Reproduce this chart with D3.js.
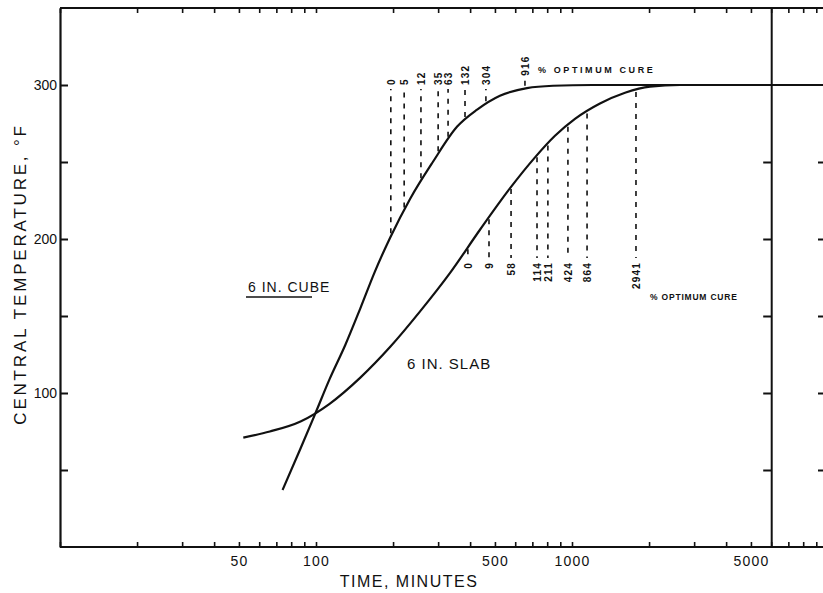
<!DOCTYPE html>
<html>
<head>
<meta charset="utf-8">
<script src="https://cdn.jsdelivr.net/npm/d3@7"></script>
<style>
  body { margin: 0; background: #fff; }
  text { font-family: "Liberation Sans", Arial, sans-serif; fill: #111; }
</style>
</head>
<body>
<svg id="chart" width="823" height="593"></svg>
<script>
// time in minutes, central temperature in deg F
var cubeTime = [74, 87, 99, 113, 130, 149, 170, 195, 233, 286, 356, 426, 523, 667, 843, 1200, 10000];
var cubeTemp = [37, 64, 86, 109, 131, 155, 179, 201, 226, 250, 273, 284, 293, 298, 299.5, 300, 300];

var slabTime = [52, 66, 87, 113, 149, 195, 255, 334, 437, 573, 717, 858, 1027, 1286, 1611, 2017, 2642, 10000];
var slabTemp = [71, 75, 81.5, 93, 110, 130, 153, 178, 206, 233, 253, 267, 278, 288, 295, 299, 300, 300];

// % optimum cure markers
var cubeCureTime = [196, 221, 257, 300, 328, 382, 461, 655];
var cubeCureLabel = ['0', '5', '12', '35', '63', '132', '304', '916'];
var slabCureTime = [392, 474, 578, 730, 805, 964, 1145, 1778];
var slabCureLabel = ['0', '9', '58', '114', '211', '424', '864', '2941'];

var tempTicks = [50, 100, 150, 200, 250, 300];
var tempLabels = [100, 200, 300];
var timeLabels = [50, 100, 500, 1000, 5000];
var innerTicks = [50, 100, 150, 200, 250];

var svg = d3.select('#chart');

var x = d3.scaleLog().domain([10, 10000]).range([60, 828]);
var y = d3.scaleLinear().domain([0, 350]).range([547, 8]);

// temperature on a curve at time t (for dashed marker ends)
function tempAt(times, temps, t) {
	var i = d3.bisectRight(times, t);
	if (i <= 0) return temps[0];
	if (i >= times.length) return temps[temps.length - 1];
	var f = (Math.log(t) - Math.log(times[i - 1])) / (Math.log(times[i]) - Math.log(times[i - 1]));
	return temps[i - 1] + f * (temps[i] - temps[i - 1]);
}

// frame
svg.append('line')
	.attr('x1', x(10)).attr('x2', 823)
	.attr('y1', y(350)).attr('y2', y(350))
	.attr('stroke', '#111').attr('stroke-width', 2.2);
svg.append('line')
	.attr('x1', x(10)).attr('x2', 823)
	.attr('y1', y(0)).attr('y2', y(0))
	.attr('stroke', '#111').attr('stroke-width', 2.2);

// bottom axis, ticks pointing up
var xb = svg.append('g')
	.attr('transform', 'translate(0,' + y(0) + ')')
	.call(d3.axisBottom(x)
		.ticks(10)
		.tickSizeInner(-5)
		.tickSizeOuter(0)
		.tickPadding(9)
		.tickFormat(function(d) { return timeLabels.indexOf(d) >= 0 ? d : ''; }));
xb.select('.domain').remove();
xb.selectAll('.tick line').attr('stroke', '#111').attr('stroke-width', 1.6);
xb.selectAll('.tick text')
	.attr('font-size', 14)
	.attr('letter-spacing', '1.2px')
	.attr('fill', '#111');

// top axis, ticks pointing down
var xt = svg.append('g')
	.attr('transform', 'translate(0,' + y(350) + ')')
	.call(d3.axisBottom(x).ticks(10).tickSizeInner(5).tickSizeOuter(0).tickFormat(''));
xt.select('.domain').remove();
xt.selectAll('.tick line').attr('stroke', '#111').attr('stroke-width', 1.6);

// left axis
var yl = svg.append('g')
	.attr('transform', 'translate(' + x(10) + ',0)')
	.call(d3.axisLeft(y)
		.tickValues(tempTicks)
		.tickSizeInner(-8)
		.tickSizeOuter(0)
		.tickPadding(3)
		.tickFormat(function(d) { return tempLabels.indexOf(d) >= 0 ? d : ''; }));
yl.select('.domain').attr('stroke', '#111').attr('stroke-width', 2.2);
yl.selectAll('.tick line').attr('stroke', '#111').attr('stroke-width', 2);
yl.selectAll('.tick text').attr('font-size', 14).attr('fill', '#111');

// heavy line at 6000 min with ticks on its left
var y6 = svg.append('g')
	.attr('transform', 'translate(' + x(6000) + ',0)')
	.call(d3.axisRight(y).tickValues(innerTicks).tickSizeInner(-8).tickSizeOuter(0).tickFormat(''));
y6.select('.domain').attr('stroke', '#111').attr('stroke-width', 2);
y6.selectAll('.tick line').attr('stroke', '#111').attr('stroke-width', 2);

// right frame (mostly outside the view)
var yr = svg.append('g')
	.attr('transform', 'translate(' + x(10000) + ',0)')
	.call(d3.axisRight(y).tickValues(innerTicks).tickSizeInner(-10).tickSizeOuter(0).tickFormat(''));
yr.select('.domain').attr('stroke', '#111').attr('stroke-width', 2);
yr.selectAll('.tick line').attr('stroke', '#111').attr('stroke-width', 2);

// curves
var line = d3.line()
	.x(function(d) { return x(d[0]); })
	.y(function(d) { return y(d[1]); })
	.curve(d3.curveMonotoneX);

svg.append('path')
	.datum(d3.zip(slabTime, slabTemp))
	.attr('fill', 'none')
	.attr('stroke', '#111')
	.attr('stroke-width', 2.2)
	.attr('d', line);

svg.append('path')
	.datum(d3.zip(cubeTime, cubeTemp))
	.attr('fill', 'none')
	.attr('stroke', '#111')
	.attr('stroke-width', 2.2)
	.attr('d', line);

// cube cure markers: dashed lines up from the curve, labels on top
var cubeTop = 89;
cubeCureTime.forEach(function(t, i) {
	var yc = y(tempAt(cubeTime, cubeTemp, t)) - 3;
	var yEnd = Math.min(cubeTop, yc - 6);
	svg.append('line')
		.attr('x1', x(t)).attr('x2', x(t))
		.attr('y1', yc).attr('y2', yEnd)
		.attr('stroke', '#111')
		.attr('stroke-width', 1.6)
		.attr('stroke-dasharray', '5,6');
	svg.append('text')
		.attr('transform', 'translate(' + (x(t) + 4) + ',' + (yEnd - 4) + ') rotate(-90)')
		.attr('font-size', 10)
		.attr('font-weight', 'bold')
		.attr('letter-spacing', '1.2px')
		.text(cubeCureLabel[i]);
});

// slab cure markers: dashed lines down from the curve, labels below
var slabBottom = 258;
slabCureTime.forEach(function(t, i) {
	var yc = y(tempAt(slabTime, slabTemp, t)) + 2;
	svg.append('line')
		.attr('x1', x(t)).attr('x2', x(t))
		.attr('y1', yc).attr('y2', slabBottom)
		.attr('stroke', '#111')
		.attr('stroke-width', 1.6)
		.attr('stroke-dasharray', '5,6');
	svg.append('text')
		.attr('transform', 'translate(' + (x(t) + 4) + ',' + (slabBottom + 4) + ') rotate(-90)')
		.attr('text-anchor', 'end')
		.attr('font-size', 10)
		.attr('font-weight', 'bold')
		.attr('letter-spacing', '1.2px')
		.text(slabCureLabel[i]);
});

svg.append('text')
	.attr('x', 538).attr('y', 73)
	.attr('font-size', 9)
	.attr('font-weight', 'bold')
	.attr('letter-spacing', '2.6px')
	.text('% OPTIMUM CURE');

svg.append('text')
	.attr('x', 650).attr('y', 300)
	.attr('font-size', 8.5)
	.attr('font-weight', 'bold')
	.attr('letter-spacing', '0.8px')
	.text('% OPTIMUM CURE');

// curve labels
svg.append('text')
	.attr('x', 248).attr('y', 292)
	.attr('font-size', 14)
	.attr('letter-spacing', '1px')
	.text('6 IN. CUBE');
svg.append('line')
	.attr('x1', 246).attr('x2', 312)
	.attr('y1', 297).attr('y2', 297)
	.attr('stroke', '#111').attr('stroke-width', 1.5);

svg.append('text')
	.attr('x', 407).attr('y', 369)
	.attr('font-size', 15)
	.attr('letter-spacing', '1px')
	.text('6 IN. SLAB');

// axis titles
svg.append('text')
	.attr('x', 409).attr('y', 587)
	.attr('text-anchor', 'middle')
	.attr('font-size', 16)
	.attr('letter-spacing', '1.5px')
	.text('TIME, MINUTES');

svg.append('text')
	.attr('transform', 'translate(26,274) rotate(-90)')
	.attr('text-anchor', 'middle')
	.attr('font-size', 17)
	.attr('letter-spacing', '2.8px')
	.text('CENTRAL  TEMPERATURE, °F');
</script>
</body>
</html>
